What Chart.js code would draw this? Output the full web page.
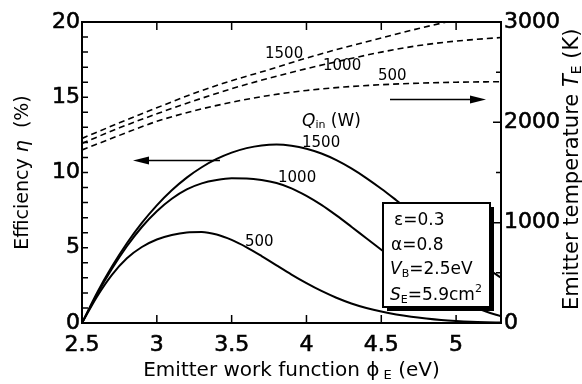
<!DOCTYPE html>
<html>
<head>
<meta charset="utf-8">
<script src="https://cdn.jsdelivr.net/npm/chart.js@4.4.0/dist/chart.umd.min.js"></script>
<style>
  html, body { margin: 0; padding: 0; background: #fff; }
  #wrap { width: 582px; height: 384px; }
</style>
</head>
<body>
<div id="wrap"><canvas id="effChart" width="582" height="384"></canvas></div>
<script>
'use strict';

// emitter work function (eV) for the efficiency curves
var phiE = [2.5, 2.6, 2.7, 2.8, 2.9, 3.0, 3.1, 3.2, 3.3, 3.4, 3.5, 3.6, 3.7, 3.8, 3.9,
            4.0, 4.1, 4.2, 4.3, 4.4, 4.5, 4.6, 4.7, 4.8, 4.9, 5.0, 5.1, 5.2, 5.3];
// efficiency eta (%) for Qin = 500 / 1000 / 1500 W
var eta500  = [0, 1.75, 3.2, 4.3, 5.05, 5.55, 5.85, 6.02, 6.05, 5.88, 5.52, 5.03, 4.45, 3.83, 3.22,
               2.65, 2.13, 1.68, 1.3, 1.0, 0.76, 0.57, 0.42, 0.3, 0.2, 0.13, 0.08, 0.05, 0.03];
var eta1000 = [0, 1.9, 3.6, 5.1, 6.38, 7.43, 8.26, 8.88, 9.28, 9.5, 9.61, 9.6, 9.5, 9.3, 8.95,
               8.45, 7.85, 7.15, 6.4, 5.63, 4.87, 4.13, 3.43, 2.79, 2.2, 1.65, 1.16, 0.76, 0.45];
var eta1500 = [0, 2.0, 3.75, 5.3, 6.65, 7.82, 8.82, 9.66, 10.35, 10.9, 11.32, 11.62, 11.8, 11.86, 11.78,
               11.58, 11.26, 10.82, 10.27, 9.63, 8.92, 8.16, 7.38, 6.6, 5.83, 5.08, 4.36, 3.67, 3.01];

// emitter temperature (K) for Qin = 500 / 1000 / 1500 W
var phiT     = [2.5, 2.75, 3.0, 3.25, 3.5, 3.75, 4.0, 4.25, 4.5, 4.75, 5.0, 5.3];
var temp500  = [1725, 1870, 2010, 2115, 2200, 2268, 2318, 2352, 2375, 2390, 2400, 2405];
var temp1000 = [1790, 1945, 2085, 2215, 2335, 2440, 2535, 2620, 2700, 2765, 2810, 2845];
var temp1500 = [1840, 1995, 2145, 2290, 2415, 2525, 2640, 2745, 2840, 2935, 3020, 3100];

var xTicks    = [2.5, 3, 3.5, 4, 4.5, 5];
var etaTicks  = [0, 5, 10, 15, 20];
var tempTicks = [0, 1000, 2000, 3000];

var FONT = '"DejaVu Sans", Verdana, sans-serif';

function pts(xs, ys) {
    return xs.map(function (x, i) { return { x: x, y: ys[i] }; });
}

function solid(data) {
    return { data: data, yAxisID: 'y', borderColor: '#000', borderWidth: 2,
             pointRadius: 0, fill: false, cubicInterpolationMode: 'monotone' };
}
function dashed(data) {
    return { data: data, yAxisID: 'y2', borderColor: '#000', borderWidth: 1.6,
             borderDash: [6, 4], pointRadius: 0, fill: false, cubicInterpolationMode: 'monotone' };
}

// draw a run of text pieces with different fonts; returns width
function runWidth(ctx, parts) {
    var w = 0;
    parts.forEach(function (p) { ctx.font = p.f; w += ctx.measureText(p.t).width; });
    return w;
}
function drawRun(ctx, parts, x, y) {
    parts.forEach(function (p) {
        ctx.font = p.f;
        ctx.fillText(p.t, x, y + (p.dy || 0));
        x += ctx.measureText(p.t).width;
    });
}

function arrow(ctx, x1, x2, y) {
    // shaft from x1 to x2, head at x2
    var dir = x2 > x1 ? 1 : -1;
    ctx.lineWidth = 1.5;
    ctx.beginPath();
    ctx.moveTo(x1, y);
    ctx.lineTo(x2 - dir * 12, y);
    ctx.stroke();
    ctx.beginPath();
    ctx.moveTo(x2, y);
    ctx.lineTo(x2 - dir * 16, y - 4);
    ctx.lineTo(x2 - dir * 16, y + 4);
    ctx.closePath();
    ctx.fill();
}

var decor = {
    id: 'decor',
    afterDraw: function (chart) {
        var ctx = chart.ctx, a = chart.chartArea;
        var sx = chart.scales.x, sy = chart.scales.y, sy2 = chart.scales.y2;
        ctx.save();
        ctx.strokeStyle = '#000';
        ctx.fillStyle = '#000';

        // frame
        ctx.lineWidth = 2;
        ctx.strokeRect(a.left, a.top, a.right - a.left, a.bottom - a.top);

        // inward ticks
        ctx.lineWidth = 1.5;
        ctx.beginPath();
        for (var v = 1; v < 20; v++) {
            var py = sy.getPixelForValue(v);
            ctx.moveTo(a.left, py); ctx.lineTo(a.left + 6, py);
        }
        for (var t = 500; t < 3000; t += 500) {
            var py2 = sy2.getPixelForValue(t);
            var len = (t % 1000 === 0) ? 8 : 5;
            ctx.moveTo(a.right, py2); ctx.lineTo(a.right - len, py2);
        }
        xTicks.forEach(function (xv) {
            if (xv === xTicks[0]) return;
            var px = sx.getPixelForValue(xv);
            ctx.moveTo(px, a.bottom); ctx.lineTo(px, a.bottom - 8);
            ctx.moveTo(px, a.top); ctx.lineTo(px, a.top + 8);
        });
        ctx.stroke();

        // curve labels
        ctx.textAlign = 'left';
        ctx.textBaseline = 'alphabetic';
        ctx.font = '15px ' + FONT;
        ctx.fillText('1500', 265, 58);
        ctx.fillText('1000', 323, 70);
        ctx.fillText('500', 378, 80);
        ctx.fillText('1500', 302, 146.5);
        ctx.fillText('1000', 278, 181.5);
        ctx.fillText('500', 245, 246);
        drawRun(ctx, [
            { t: 'Q', f: 'italic 17px ' + FONT },
            { t: 'in', f: '11px ' + FONT, dy: 2 },
            { t: ' (W)', f: '17px ' + FONT }
        ], 302, 126);

        // arrows
        arrow(ctx, 390, 486, 99.5);
        arrow(ctx, 220, 133, 160.5);

        // parameter box with shadow
        ctx.fillRect(387, 207, 107, 104);
        ctx.fillStyle = '#fff';
        ctx.fillRect(383, 203, 107, 104);
        ctx.lineWidth = 2;
        ctx.strokeRect(383, 203, 107, 104);
        ctx.fillStyle = '#000';
        var bf = '17px ' + FONT, bi = 'italic 17px ' + FONT, bs = '11px ' + FONT;
        drawRun(ctx, [{ t: 'ε=0.3', f: bf }], 394, 225);
        drawRun(ctx, [{ t: 'α=0.8', f: bf }], 391, 249.5);
        drawRun(ctx, [{ t: 'V', f: bi }, { t: 'B', f: bs, dy: 3 }, { t: '=2.5eV', f: bf }], 390, 274);
        drawRun(ctx, [{ t: 'S', f: bi }, { t: 'E', f: bs, dy: 3 }, { t: '=5.9cm', f: bf },
                      { t: '2', f: bs, dy: -8 }], 390, 299.5);

        // axis titles
        var tf = '20px ' + FONT, ts = '13px ' + FONT;
        var bottom = [{ t: 'Emitter work function ', f: tf }, { t: 'ϕ', f: tf },
                      { t: ' E', f: ts, dy: 3 }, { t: ' (eV)', f: tf }];
        drawRun(ctx, bottom, (a.left + a.right) / 2 - runWidth(ctx, bottom) / 2, 376);

        var lf = '19px ' + FONT, li = 'italic 19px ' + FONT;
        var left = [{ t: 'Efficiency ', f: lf }, { t: 'η', f: li }, { t: '  (%)', f: lf }];
        ctx.save();
        ctx.translate(28, (a.top + a.bottom) / 2);
        ctx.rotate(-Math.PI / 2);
        drawRun(ctx, left, -runWidth(ctx, left) / 2, 0);
        ctx.restore();

        var rf = '21px ' + FONT, ri = 'italic 21px ' + FONT, rs = '14px ' + FONT;
        var right = [{ t: 'Emitter temperature ', f: rf }, { t: 'T', f: ri },
                     { t: 'E', f: rs, dy: 3 }, { t: ' (K)', f: rf }];
        ctx.save();
        ctx.translate(578, 310);
        ctx.rotate(-Math.PI / 2);
        drawRun(ctx, right, 0, 0);
        ctx.restore();

        ctx.restore();
    }
};

var tickFont = { family: FONT, size: 22 };

new Chart(document.getElementById('effChart'), {
    type: 'line',
    data: {
        datasets: [
            solid(pts(phiE, eta500)),
            solid(pts(phiE, eta1000)),
            solid(pts(phiE, eta1500)),
            dashed(pts(phiT, temp500)),
            dashed(pts(phiT, temp1000)),
            dashed(pts(phiT, temp1500))
        ]
    },
    options: {
        responsive: false,
        animation: false,
        layout: { padding: { top: 22, left: 0, right: 0, bottom: 0 } },
        plugins: { legend: { display: false }, tooltip: { enabled: false } },
        scales: {
            x: {
                type: 'linear', min: 2.5, max: 5.3,
                grid: { display: false, drawTicks: false }, border: { display: false },
                afterBuildTicks: function (s) { s.ticks = xTicks.map(function (v) { return { value: v }; }); },
                afterFit: function (s) { s.height = 61; },
                ticks: { color: '#000', font: tickFont, padding: 9, maxRotation: 0,
                         textStrokeColor: '#000', textStrokeWidth: 0.6,
                         callback: function (v) { return String(v); } }
            },
            y: {
                position: 'left', min: 0, max: 20,
                grid: { display: false, drawTicks: false }, border: { display: false },
                afterBuildTicks: function (s) { s.ticks = etaTicks.map(function (v) { return { value: v }; }); },
                afterFit: function (s) { s.width = 82; },
                ticks: { color: '#000', font: tickFont, padding: 2,
                         textStrokeColor: '#000', textStrokeWidth: 0.6,
                         callback: function (v) { return String(v); } }
            },
            y2: {
                position: 'right', min: 0, max: 3000,
                grid: { display: false, drawTicks: false }, border: { display: false },
                afterBuildTicks: function (s) { s.ticks = tempTicks.map(function (v) { return { value: v }; }); },
                afterFit: function (s) { s.width = 81; },
                ticks: { color: '#000', font: tickFont, padding: 3,
                         textStrokeColor: '#000', textStrokeWidth: 0.6,
                         callback: function (v) { return String(v); } }
            }
        }
    },
    plugins: [decor]
});
</script>
</body>
</html>
